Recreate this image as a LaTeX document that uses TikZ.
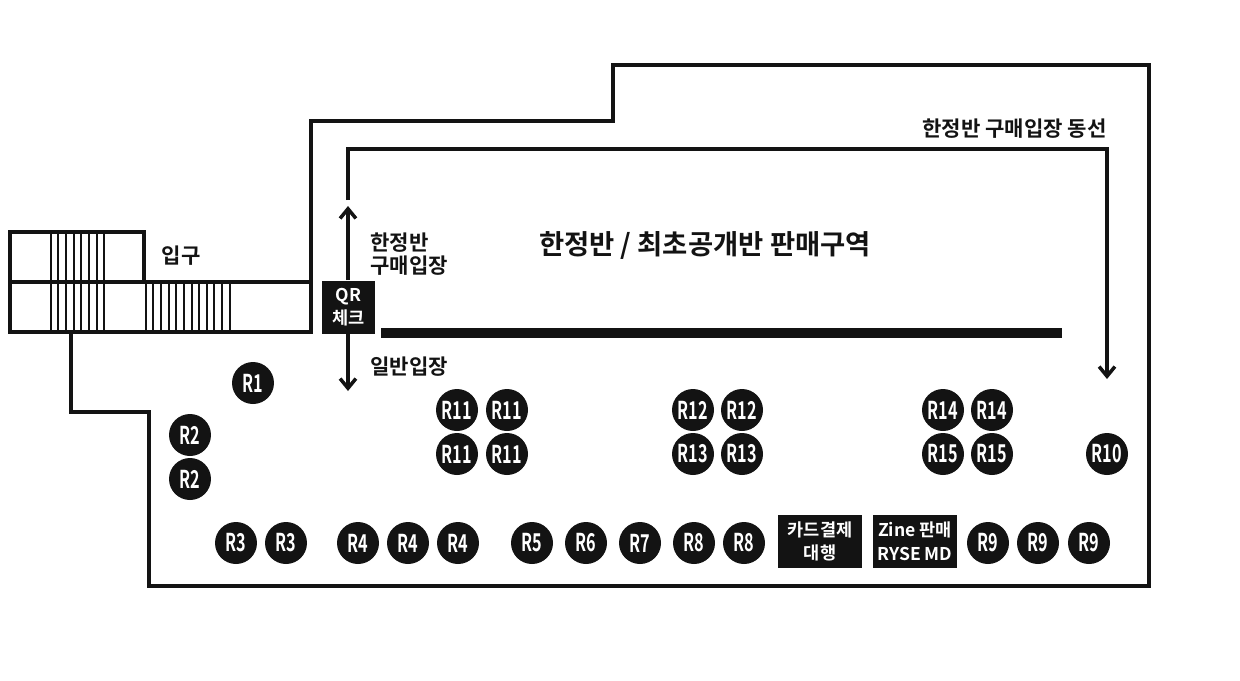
\documentclass[tikz,border=0pt]{standalone}
\usepackage{fontspec}
\setmainfont{Noto Sans CJK KR Bold}
\newfontfamily\narrowfont[FakeStretch=0.66]{Noto Sans CJK KR Bold}
\usetikzlibrary{arrows.meta}
\usetikzlibrary{positioning}
\definecolor{ink}{HTML}{131313}
\tikzset{
	wall/.style={draw=ink, line width={2.6pt}, line join=miter},
	tread/.style={draw=ink, line width={1.1pt}},
	route/.style={draw=ink, line width={2.3pt}, -{Straight Barb[length=5.5pt,width=9pt,line width=2pt]}},
	divider/.style={fill=ink, draw=none},
	booth/.style={circle, fill=ink, text=white, minimum size={0.84cm}, inner sep=0pt, font=\narrowfont\fontsize{14}{14}\selectfont},
	desk/.style={fill=ink, text=white, align=center, inner sep=0pt, minimum width={1.68cm}, minimum height={1.06cm}, font=\fontsize{10}{13.4}\selectfont},
	label/.style={text=ink, align=left, inner sep=0pt, font=\fontsize{12}{13.5}\selectfont}
}
\begin{document}
\begin{tikzpicture}[x=0.02cm, y=-0.02cm]
	\useasboundingbox (0,0) rectangle (1240,680);

	% hall outline
	\draw[wall] (71,332) to (71,412) to (149,412) to (149,586) to (1149,586) to (1149,65)
		to (613,65) to (613,121) to (311,121) to (311,282);

	% stairs
	\draw[wall] (10,282) to (10,232) to (144,232) to (144,282);
	\draw[wall] (10,282) rectangle (311,332);
	\foreach \i in {0,...,7} {
		\draw[tread] (50.7+7.65*\i,232) to (50.7+7.65*\i,282);
		\draw[tread] (50.7+7.65*\i,282) to (50.7+7.65*\i,332);
	}
	\foreach \i in {0,...,11} {
		\draw[tread] (145.7+7.64*\i,282) to (145.7+7.64*\i,332);
	}

	\node[divider, minimum width={13.62cm}, minimum height={0.2cm}, inner sep=0pt] (barrier) at (721.5,333) {};

	% entry check and arrows
	\node[desk, minimum width={1.06cm}, minimum height={1.06cm}] (qrcheck) at (348.5,307) {QR\\체크};
	\coordinate (limitedup) at (348,206);
	\coordinate (generaldown) at (348,391);
	\draw[route] (qrcheck.north -| limitedup) to (limitedup);
	\draw[route] (qrcheck.south -| generaldown) to (generaldown);

	% limited edition route
	\coordinate (routestart) at (348,200);
	\coordinate (routeleft) at (348,149);
	\coordinate (routeright) at (1107,149);
	\coordinate (routeend) at (1107,379);
	\draw[route] (routestart) to (routeleft) to (routeright) to (routeend);

	% labels
	\node[label] (entrance) at (181,256) {입구};
	\node[label, anchor=west] (limitedentry) at (370,254) {한정반\\구매입장};
	\node[label, anchor=west] (generalentry) at (370,367) {일반입장};
	\node[label, anchor=east] (routelabel) at (1107,128.5) {한정반 구매입장 동선};
	\node[label, font=\fontsize{15.6}{18}\selectfont] (salesarea) at (705,245) {한정반 / 최초공개반 판매구역};

	% booths
	\foreach \name/\txt/\x/\y in {
		ra/R1/253/383, rba/R2/190/435, rbb/R2/190/479,
		rca/R3/236/543, rcb/R3/286/543,
		rda/R4/358/543, rdb/R4/408/543, rdc/R4/458/543,
		re/R5/532/543, rf/R6/586/543, rg/R7/640/543,
		rha/R8/694/543, rhb/R8/744/543,
		ria/R9/988/543, rib/R9/1038/543, ric/R9/1089/543,
		rj/R10/1107/454,
		rka/R11/457/410, rkb/R11/507/410, rkc/R11/457/454, rkd/R11/507/454,
		rla/R12/693/410, rlb/R12/742/410,
		rma/R13/693/454, rmb/R13/742/454,
		rna/R14/943/410, rnb/R14/992/410,
		roa/R15/943/454, rob/R15/992/454} {
		\node[booth] (\name) at (\x,\y) {\txt};
	}

	% desks
	\node[desk] (carddesk) at (820,541.5) {카드결제\\대행};
	\node[desk] (zinedesk) at (915,541.5) {Zine 판매\\RYSE MD};
\end{tikzpicture}
\end{document}
